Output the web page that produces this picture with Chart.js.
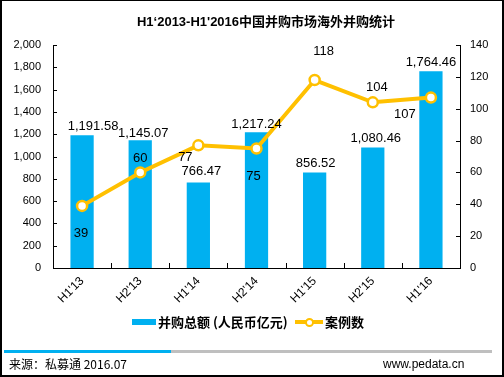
<!DOCTYPE html>
<html>
<head>
<meta charset="utf-8">
<script src="https://cdn.jsdelivr.net/npm/chart.js@4/dist/chart.umd.min.js"></script>
<style>
  html, body { margin: 0; padding: 0; background: #fff; }
  #wrap { position: relative; width: 504px; height: 377px; overflow: hidden; font-family: "Liberation Sans", "Noto Sans CJK SC", sans-serif; }
  #frame { position: absolute; left: 0; top: 0; width: 504px; height: 377px; box-sizing: border-box; border-top: 1px solid #000; border-left: 2px solid #000; border-right: 2px solid #000; border-bottom: 2px solid #000; pointer-events: none; }
  #c { position: absolute; left: 0; top: 0; }
  #title { position: absolute; left: 0; width: 532px; top: 14px; text-align: center; font-weight: bold; font-size: 13px; color: #000; line-height: 16px; }
  .leg { position: absolute; top: 314px; font-family: "Noto Sans CJK SC", sans-serif; font-weight: bold; font-size: 13px; line-height: 16px; color: #000; }
  #sw1 { position: absolute; left: 132px; top: 319px; width: 24px; height: 6px; background: #00B0F0; }
  #sw2 { position: absolute; left: 295px; top: 320px; width: 28px; height: 4px; background: #FFC000; }
  #sw2c { position: absolute; left: 305px; top: 318px; width: 5px; height: 5px; border: 2px solid #FFC000; border-radius: 50%; background: #fff; }
  #barBlue { position: absolute; left: 4px; top: 350px; width: 167px; height: 3px; background: #00B0F0; }
  #barGray { position: absolute; left: 171px; top: 350px; width: 321px; height: 3px; background: #BFBFBF; }
  #src { position: absolute; left: 9px; top: 356px; font-size: 12px; line-height: 16px; font-family: "Noto Sans CJK SC", sans-serif; color: #000; }
  #url { position: absolute; left: 383px; top: 356px; font-size: 12px; line-height: 16px; font-family: "Liberation Sans", sans-serif; color: #000; }
</style>
</head>
<body>
<div id="wrap">
  <canvas id="c" width="504" height="377"></canvas>
  <div id="title">H1‘2013-H1'2016中国并购市场海外并购统计</div>
  <div id="sw1"></div>
  <div class="leg" style="left:158px;">并购总额 (人民币亿元)</div>
  <div id="sw2"></div>
  <div id="sw2c"></div>
  <div class="leg" style="left:325px;">案例数</div>
  <div id="barBlue"></div>
  <div id="barGray"></div>
  <div id="src">来源：私募通 2016.07</div>
  <div id="url">www.pedata.cn</div>
  <div id="frame"></div>
</div>
<script>
const categories = ["H1'13", "H2'13", "H1'14", "H2'14", "H1'15", "H2'15", "H1'16"];
const amountValues = [1191.58, 1145.07, 766.47, 1217.24, 856.52, 1080.46, 1764.46];
const caseValues = [39, 60, 77, 75, 118, 104, 107];
const amountLabels = ["1,191.58", "1,145.07", "766.47", "1,217.24", "856.52", "1,080.46", "1,764.46"];
const caseLabels = ["39", "60", "77", "75", "118", "104", "107"];
const leftTicks = [0, 200, 400, 600, 800, 1000, 1200, 1400, 1600, 1800, 2000];
const rightTicks = [0, 20, 40, 60, 80, 100, 120, 140];

// label placement offsets (style only)
const barLabelOffsets = [[11, -9], [3, -7], [3, -11], [0, -8], [1, -9], [3, -9], [0, -9]];
const caseLabelOffsets = [[-1, 28], [0, -14], [-13, 12], [-3, 28], [9, -29], [4, -15], [-26, 17]];

const labelPlugin = {
  id: 'customLabels',
  afterDatasetsDraw(chart) {
    const ctx = chart.ctx;
    ctx.save();
    ctx.font = '13px "Liberation Sans", Arial, sans-serif';
    ctx.fillStyle = '#000';
    ctx.textAlign = 'center';
    ctx.textBaseline = 'middle';
    const barMeta = chart.getDatasetMeta(0);
    barMeta.data.forEach((el, i) => {
      const o = barLabelOffsets[i];
      ctx.fillText(amountLabels[i], el.x + o[0], el.y + o[1]);
    });
    const lineMeta = chart.getDatasetMeta(1);
    lineMeta.data.forEach((el, i) => {
      const o = caseLabelOffsets[i];
      ctx.fillText(caseLabels[i], el.x + o[0], el.y + o[1]);
    });
    ctx.restore();
  },
  afterDraw(chart) {
    const ctx = chart.ctx;
    const a = chart.chartArea;
    ctx.save();
    ctx.strokeStyle = '#000';
    ctx.lineWidth = 1;
    ctx.beginPath();
    const y = chart.scales.y, y1 = chart.scales.y1;
    leftTicks.forEach(v => {
      const py = Math.round(y.getPixelForValue(v)) + 0.5;
      ctx.moveTo(a.left, py); ctx.lineTo(a.left + 4, py);
    });
    rightTicks.forEach(v => {
      const py = Math.round(y1.getPixelForValue(v)) + 0.5;
      ctx.moveTo(a.right - 4, py); ctx.lineTo(a.right, py);
    });
    const n = categories.length;
    for (let i = 0; i <= n; i++) {
      const px = Math.round(a.left + (a.right - a.left) * i / n) + 0.5;
      ctx.moveTo(px, a.bottom); ctx.lineTo(px, a.bottom - 5);
    }
    ctx.stroke();
    ctx.restore();
  }
};

const tickFont = { family: '"Liberation Sans", Arial, sans-serif', size: 11 };
const xTickFont = { family: '"Liberation Sans", Arial, sans-serif', size: 12 };

new Chart(document.getElementById('c'), {
  data: {
    labels: categories,
    datasets: [
      {
        type: 'bar',
        label: '并购总额 (人民币亿元)',
        data: amountValues,
        backgroundColor: '#00B0F0',
        yAxisID: 'y',
        categoryPercentage: 0.8,
        barPercentage: 0.5,
        order: 1
      },
      {
        type: 'line',
        label: '案例数',
        data: caseValues,
        borderColor: '#FFC000',
        borderWidth: 4,
        pointRadius: 5,
        pointBorderWidth: 2.5,
        pointBackgroundColor: '#fff',
        pointBorderColor: '#FFC000',
        tension: 0,
        yAxisID: 'y1',
        order: 0
      }
    ]
  },
  options: {
    responsive: false,
    animation: false,
    devicePixelRatio: 1,
    layout: { padding: { left: 0, right: 0, top: 45, bottom: 69 } },
    plugins: { legend: { display: false }, title: { display: false }, tooltip: { enabled: false } },
    scales: {
      x: {
        offset: true,
        grid: { display: false, drawTicks: false },
        border: { display: true, color: '#000', width: 1 },
        ticks: { font: xTickFont, color: '#000', maxRotation: 45, minRotation: 45, padding: 6 },
        afterFit(s) { s.height = 40; }
      },
      y: {
        position: 'left',
        min: 0, max: 2000,
        grid: { display: false, drawTicks: false },
        border: { display: true, color: '#000', width: 1 },
        ticks: {
          font: tickFont, color: '#000', stepSize: 200, padding: 12,
          callback: v => v.toLocaleString('en-US')
        },
        afterFit(s) { s.width = 53; }
      },
      y1: {
        position: 'right',
        min: 0, max: 140,
        grid: { display: false, drawTicks: false },
        border: { display: true, color: '#000', width: 1 },
        ticks: { font: tickFont, color: '#000', stepSize: 20, padding: 10 },
        afterFit(s) { s.width = 44; }
      }
    }
  },
  plugins: [labelPlugin]
});
</script>
</body>
</html>
